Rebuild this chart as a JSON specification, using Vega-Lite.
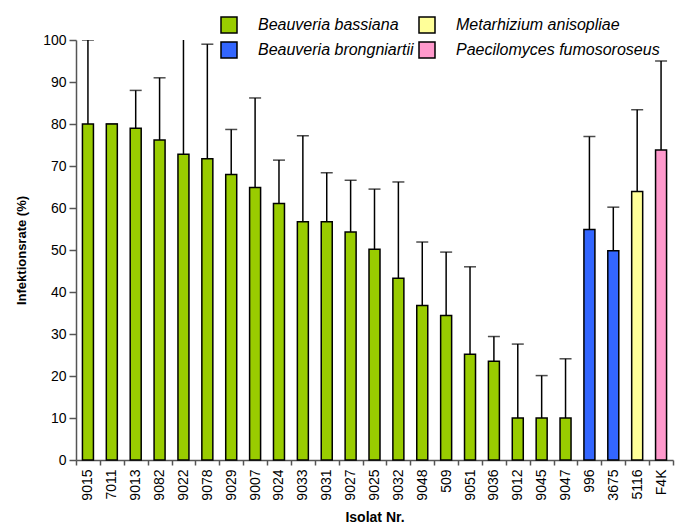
{
  "$schema": "https://vega.github.io/schema/vega-lite/v6.json",
  "width": 597,
  "height": 420,
  "autosize": {"type": "none"},
  "padding": {"left": 76, "top": 40, "right": 7, "bottom": 69},
  "background": "white",
  "config": {
    "view": {"stroke": null},
    "font": "Liberation Sans",
    "axis": {"grid": false, "domainColor": "#555555", "tickColor": "#555555", "labelColor": "black", "titleColor": "black", "labelFont": "Liberation Sans", "titleFont": "Liberation Sans"}
  },
  "data": {
    "values": [
      {"isolat": "9015", "art": "Beauveria bassiana", "rate": 80, "err": 100},
      {"isolat": "7011", "art": "Beauveria bassiana", "rate": 80, "err": 80},
      {"isolat": "9013", "art": "Beauveria bassiana", "rate": 79, "err": 88},
      {"isolat": "9082", "art": "Beauveria bassiana", "rate": 76.2, "err": 91},
      {"isolat": "9022", "art": "Beauveria bassiana", "rate": 72.8, "err": 115},
      {"isolat": "9078", "art": "Beauveria bassiana", "rate": 71.7, "err": 99},
      {"isolat": "9029", "art": "Beauveria bassiana", "rate": 68, "err": 78.7},
      {"isolat": "9007", "art": "Beauveria bassiana", "rate": 64.9, "err": 86.2},
      {"isolat": "9024", "art": "Beauveria bassiana", "rate": 61.1, "err": 71.4},
      {"isolat": "9033", "art": "Beauveria bassiana", "rate": 56.7, "err": 77.2},
      {"isolat": "9031", "art": "Beauveria bassiana", "rate": 56.7, "err": 68.4},
      {"isolat": "9027", "art": "Beauveria bassiana", "rate": 54.3, "err": 66.6},
      {"isolat": "9025", "art": "Beauveria bassiana", "rate": 50.2, "err": 64.5},
      {"isolat": "9032", "art": "Beauveria bassiana", "rate": 43.3, "err": 66.2},
      {"isolat": "9048", "art": "Beauveria bassiana", "rate": 36.8, "err": 51.9},
      {"isolat": "509", "art": "Beauveria bassiana", "rate": 34.4, "err": 49.5},
      {"isolat": "9051", "art": "Beauveria bassiana", "rate": 25.2, "err": 46},
      {"isolat": "9036", "art": "Beauveria bassiana", "rate": 23.5, "err": 29.4},
      {"isolat": "9012", "art": "Beauveria bassiana", "rate": 10, "err": 27.6},
      {"isolat": "9045", "art": "Beauveria bassiana", "rate": 10, "err": 20.1},
      {"isolat": "9047", "art": "Beauveria bassiana", "rate": 10, "err": 24.1},
      {"isolat": "996", "art": "Beauveria brongniartii", "rate": 54.9, "err": 77},
      {"isolat": "3675", "art": "Beauveria brongniartii", "rate": 49.8, "err": 60.2},
      {"isolat": "5116", "art": "Metarhizium anisopliae", "rate": 63.9, "err": 83.4},
      {"isolat": "F4K", "art": "Paecilomyces fumosoroseus", "rate": 73.8, "err": 95}
    ]
  },
  "encoding": {
    "x": {
      "field": "isolat", "type": "nominal", "sort": null,
      "scale": {"paddingInner": 0, "paddingOuter": 0},
      "axis": {"title": "Isolat Nr.", "titleFontSize": 14, "titleFontWeight": "bold", "titlePadding": 10, "labelAngle": -90, "labelFontSize": 14, "labelPadding": 4, "tickSize": 5, "tickBand": "extent", "domainWidth": 1.5, "tickWidth": 1.5}
    }
  },
  "layer": [
    {
      "mark": {"type": "rule", "color": "black", "strokeWidth": 1.5, "clip": true},
      "encoding": {
        "y": {"field": "rate", "type": "quantitative"},
        "y2": {"field": "err"}
      }
    },
    {
      "mark": {"type": "tick", "color": "black", "size": 12, "thickness": 1.5, "clip": true},
      "encoding": {
        "y": {"field": "err", "type": "quantitative"}
      }
    },
    {
      "mark": {"type": "bar", "size": 11, "stroke": "black", "strokeWidth": 1.5},
      "encoding": {
        "y": {
          "field": "rate", "type": "quantitative",
          "scale": {"domain": [0, 100], "nice": false},
          "axis": {"title": "Infektionsrate (%)", "titleFontSize": 13, "titleFontWeight": "bold", "titlePadding": 14, "values": [0,10,20,30,40,50,60,70,80,90,100], "labelFontSize": 14, "labelPadding": 3, "tickSize": 7, "domainWidth": 1.5, "tickWidth": 1.5}
        },
        "fill": {
          "field": "art", "type": "nominal",
          "scale": {"domain": ["Beauveria bassiana", "Metarhizium anisopliae", "Beauveria brongniartii", "Paecilomyces fumosoroseus"], "range": ["#99CC00", "#FFFF99", "#3366FF", "#FF99CC"]},
          "legend": {"title": null, "orient": "none", "legendX": 144, "legendY": -24, "direction": "horizontal", "columns": 2, "padding": 0, "symbolType": "square", "symbolSize": 256, "symbolStrokeColor": "black", "symbolStrokeWidth": 1.5, "symbolOpacity": 1, "labelFont": "Liberation Sans", "labelFontStyle": "italic", "labelFontSize": 16, "labelColor": "black", "labelOffset": 20, "columnPadding": 2, "rowPadding": 3, "labelLimit": 300}
        }
      }
    }
  ]
}
